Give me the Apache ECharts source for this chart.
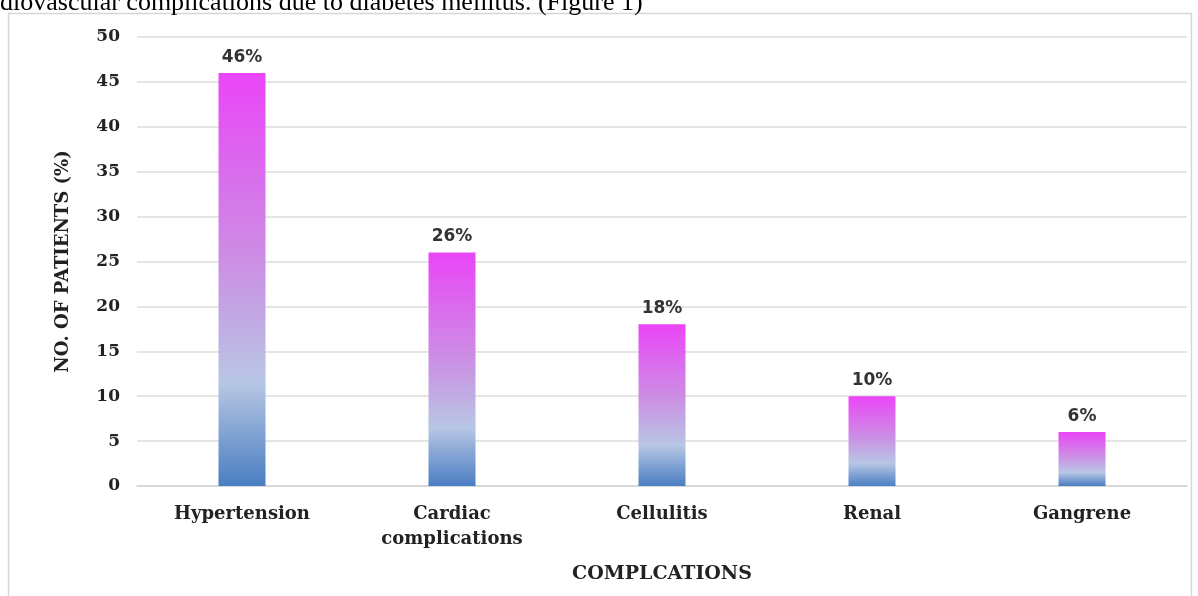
<!DOCTYPE html>
<html>
<head>
<meta charset="utf-8">
<script src="https://cdn.jsdelivr.net/npm/echarts@6/dist/echarts.min.js"></script>
<style>
  html, body { margin: 0; padding: 0; background: #fff; }
  #chart { width: 1198px; height: 596px; }
</style>
</head>
<body>
<div id="chart"></div>
<script>
// complications data
var categories = ['Hypertension', 'Cardiac\ncomplications', 'Cellulitis', 'Renal', 'Gangrene'];
var patients = [46, 26, 18, 10, 6];
var yTicks = [0, 50, 5]; // min, max, interval

var serif = '"Liberation Serif", "Times New Roman", serif';
var boldSerif = '"DejaVu Serif", serif';

var chart = echarts.init(document.getElementById('chart'));
var option = {
    backgroundColor: '#fff',
    animation: false,
    graphic: [
        {
            type: 'rect',
            shape: { x: 8.5, y: 13.5, width: 1183, height: 590 },
            style: { fill: 'none', stroke: '#d6d6d6', lineWidth: 1.5 }
        },
        {
            type: 'text',
            left: 0,
            top: -10,
            style: {
                text: 'diovascular complications due to diabetes mellitus. (Figure 1)',
                font: '26px ' + serif,
                fill: '#000'
            }
        }
    ],
    grid: {
        left: 137,
        right: 11,
        top: 37,
        bottom: 110
    },
    xAxis: {
        type: 'category',
        data: categories,
        name: 'COMPLCATIONS',
        nameLocation: 'middle',
        nameGap: 79,
        nameTextStyle: {
            fontFamily: boldSerif,
            fontWeight: 'bold',
            fontSize: 19,
            color: '#222'
        },
        axisTick: { show: false },
        axisLine: { lineStyle: { color: '#d4d4d4', width: 1.5 } },
        axisLabel: {
            margin: 16,
            fontFamily: boldSerif,
            fontWeight: 'bold',
            fontSize: 18,
            lineHeight: 25,
            color: '#222'
        }
    },
    yAxis: {
        type: 'value',
        min: yTicks[0],
        max: yTicks[1],
        interval: yTicks[2],
        name: 'NO. OF PATIENTS (%)',
        nameLocation: 'middle',
        nameGap: 65,
        nameTextStyle: {
            fontFamily: boldSerif,
            fontWeight: 'bold',
            fontSize: 18,
            color: '#222'
        },
        axisLine: { show: false },
        axisTick: { show: false },
        axisLabel: {
            margin: 17,
            fontFamily: boldSerif,
            fontWeight: 'bold',
            fontSize: 17,
            color: '#222'
        },
        splitLine: { lineStyle: { color: '#dcdcdc', width: 1.5 } }
    },
    series: [
        {
            type: 'bar',
            data: patients,
            barWidth: 47,
            itemStyle: {
                color: new echarts.graphic.LinearGradient(0, 0, 0, 1, [
                    { offset: 0, color: '#ea45f7' },
                    { offset: 0.45, color: '#cc8ee4' },
                    { offset: 0.75, color: '#b7c6e4' },
                    { offset: 1, color: '#4a7ec2' }
                ])
            },
            label: {
                show: true,
                position: 'top',
                distance: 7,
                formatter: '{c}%',
                fontFamily: '"DejaVu Sans", sans-serif',
                fontWeight: 'bold',
                fontSize: 17,
                color: '#333'
            }
        }
    ]
};
chart.setOption(option);
</script>
</body>
</html>
